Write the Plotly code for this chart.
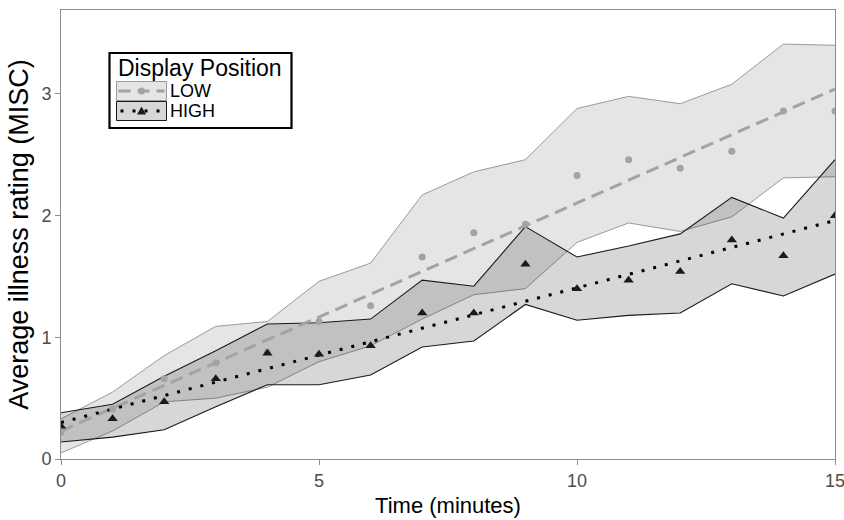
import plotly.graph_objects as go

# ---- data ----
times = list(range(16))

low_mean  = [0.22, 0.41, 0.66, 0.79, 0.88, 1.13, 1.26, 1.66, 1.86, 1.93, 2.33, 2.46, 2.39, 2.53, 2.86, 2.86]
low_upper = [0.33, 0.55, 0.85, 1.09, 1.13, 1.46, 1.61, 2.17, 2.36, 2.46, 2.88, 2.98, 2.92, 3.08, 3.41, 3.40]
low_lower = [0.05, 0.23, 0.47, 0.50, 0.59, 0.80, 0.93, 1.15, 1.35, 1.40, 1.78, 1.94, 1.87, 1.99, 2.31, 2.32]

high_mean  = [0.27, 0.33, 0.47, 0.66, 0.87, 0.86, 0.93, 1.20, 1.20, 1.60, 1.40, 1.47, 1.54, 1.80, 1.67, 2.00]
high_upper = [0.38, 0.45, 0.68, 0.89, 1.11, 1.12, 1.15, 1.47, 1.42, 1.91, 1.66, 1.75, 1.85, 2.15, 1.98, 2.46]
high_lower = [0.14, 0.18, 0.24, 0.43, 0.61, 0.61, 0.69, 0.92, 0.97, 1.27, 1.14, 1.18, 1.20, 1.44, 1.34, 1.52]

fit_x = [0, 15]
low_fit = [0.23, 3.04]
high_fit = [0.30, 1.96]

x_ticks = [0, 5, 10, 15]
y_ticks = [0, 1, 2, 3]

legend_title = "Display Position"
group_names = ["LOW", "HIGH"]

# ---- styles ----
FONT = "Liberation Sans, Arial, sans-serif"
LOW_COL = "#a3a3a3"
HIGH_COL = "#1a1a1a"
LOW_FILL = "rgba(0,0,0,0.10)"
HIGH_FILL = "rgba(0,0,0,0.155)"

fig = go.Figure()

# LOW ribbon
fig.add_trace(go.Scatter(x=times, y=low_lower, mode="lines",
                         line=dict(color="#9a9a9a", width=1), hoverinfo="skip"))
fig.add_trace(go.Scatter(x=times, y=low_upper, mode="lines", fill="tonexty",
                         fillcolor=LOW_FILL, line=dict(color="#9a9a9a", width=1), hoverinfo="skip"))
# HIGH ribbon
fig.add_trace(go.Scatter(x=times, y=high_lower, mode="lines",
                         line=dict(color=HIGH_COL, width=1.1), hoverinfo="skip"))
fig.add_trace(go.Scatter(x=times, y=high_upper, mode="lines", fill="tonexty",
                         fillcolor=HIGH_FILL, line=dict(color=HIGH_COL, width=1.1), hoverinfo="skip"))

# fitted lines
fig.add_trace(go.Scatter(x=fit_x, y=low_fit, mode="lines",
                         line=dict(color=LOW_COL, width=3, dash="13px,7px")))
fig.add_trace(go.Scatter(x=fit_x, y=high_fit, mode="lines",
                         line=dict(color="black", width=3, dash="3px,9px")))

# points
fig.add_trace(go.Scatter(x=times, y=low_mean, mode="markers", name=group_names[0],
                         marker=dict(symbol="circle", size=7, color=LOW_COL)))
fig.add_trace(go.Scatter(x=times, y=high_mean, mode="markers", name=group_names[1],
                         marker=dict(symbol="triangle-up", size=9, color=HIGH_COL)))

# ---- manual legend (paper coordinates) ----
L, R, T, B = 61, 835, 10, 459
def px(xp):
    return (xp - L) / (R - L)
def py(yp):
    return (B - yp) / (B - T)

shapes = []
# legend frame
shapes.append(dict(type="rect", xref="paper", yref="paper",
                   x0=px(109.5), x1=px(291.5), y0=py(128), y1=py(53),
                   line=dict(color="black", width=2.2), fillcolor="white", layer="above"))
# key boxes
kx0, kx1 = 116.5, 166.5
keys = [(81.5, 100.5, LOW_FILL, "#9a9a9a"), (101.5, 120.5, HIGH_FILL, HIGH_COL)]
for (y0, y1, fc, lc) in keys:
    shapes.append(dict(type="rect", xref="paper", yref="paper",
                       x0=px(kx0), x1=px(kx1), y0=py(y1), y1=py(y0),
                       line=dict(color=lc, width=1), fillcolor=fc, layer="above"))
# key lines
ly_low = (81.5 + 100.5) / 2
ly_high = (101.5 + 120.5) / 2
shapes.append(dict(type="line", xref="paper", yref="paper",
                   x0=px(kx0 + 2), x1=px(kx1 - 2), y0=py(ly_low), y1=py(ly_low),
                   line=dict(color=LOW_COL, width=3, dash="12px,7px"), layer="above"))
shapes.append(dict(type="line", xref="paper", yref="paper",
                   x0=px(kx0 + 4), x1=px(kx1 - 2), y0=py(ly_high), y1=py(ly_high),
                   line=dict(color="black", width=3, dash="3px,9px"), layer="above"))
cx = (kx0 + kx1) / 2
# circle key marker
shapes.append(dict(type="circle", xref="paper", yref="paper",
                   x0=px(cx - 3.5), x1=px(cx + 3.5), y0=py(ly_low + 3.5), y1=py(ly_low - 3.5),
                   line=dict(color=LOW_COL, width=0), fillcolor=LOW_COL, layer="above"))
# triangle key marker
tp = [(cx - 4.5, ly_high + 3.5), (cx + 4.5, ly_high + 3.5), (cx, ly_high - 4.5)]
path = "M {} {} L {} {} L {} {} Z".format(px(tp[0][0]), py(tp[0][1]), px(tp[1][0]), py(tp[1][1]),
                                          px(tp[2][0]), py(tp[2][1]))
shapes.append(dict(type="path", xref="paper", yref="paper", path=path,
                   line=dict(color=HIGH_COL, width=0), fillcolor=HIGH_COL, layer="above"))

annotations = [
    dict(text=legend_title, xref="paper", yref="paper", x=px(116), y=py(68),
         xanchor="left", yanchor="middle", showarrow=False,
         font=dict(family=FONT, size=23, color="black")),
    dict(text=group_names[0], xref="paper", yref="paper", x=px(168), y=py(ly_low),
         xanchor="left", yanchor="middle", showarrow=False,
         font=dict(family=FONT, size=18, color="black")),
    dict(text=group_names[1], xref="paper", yref="paper", x=px(168), y=py(ly_high),
         xanchor="left", yanchor="middle", showarrow=False,
         font=dict(family=FONT, size=18, color="black")),
]

axis_common = dict(showgrid=False, zeroline=False, showline=True, mirror=True,
                   linecolor="#8c8c8c", linewidth=1, ticks="outside", ticklen=5,
                   tickcolor="#8c8c8c", tickwidth=1, ticklabeloverflow="allow",
                   automargin=False,
                   tickfont=dict(family=FONT, size=18, color="#4d4d4d"))

fig.update_layout(
    width=844, height=520,
    margin=dict(l=L, r=844 - R, t=T, b=520 - B),
    paper_bgcolor="white", plot_bgcolor="white",
    showlegend=False,
    shapes=shapes, annotations=annotations,
    xaxis=dict(range=[0, 15], tickvals=x_ticks, ticktext=[str(v) for v in x_ticks],
               title=dict(text="Time (minutes)", font=dict(family=FONT, size=22, color="black"),
                          standoff=8),
               **axis_common),
    yaxis=dict(range=[0, 3.69], tickvals=y_ticks, ticktext=[str(v) for v in y_ticks],
               title=dict(text="Average illness rating (MISC)",
                          font=dict(family=FONT, size=27, color="black"), standoff=4),
               **axis_common),
)

fig.write_html("out.html")
